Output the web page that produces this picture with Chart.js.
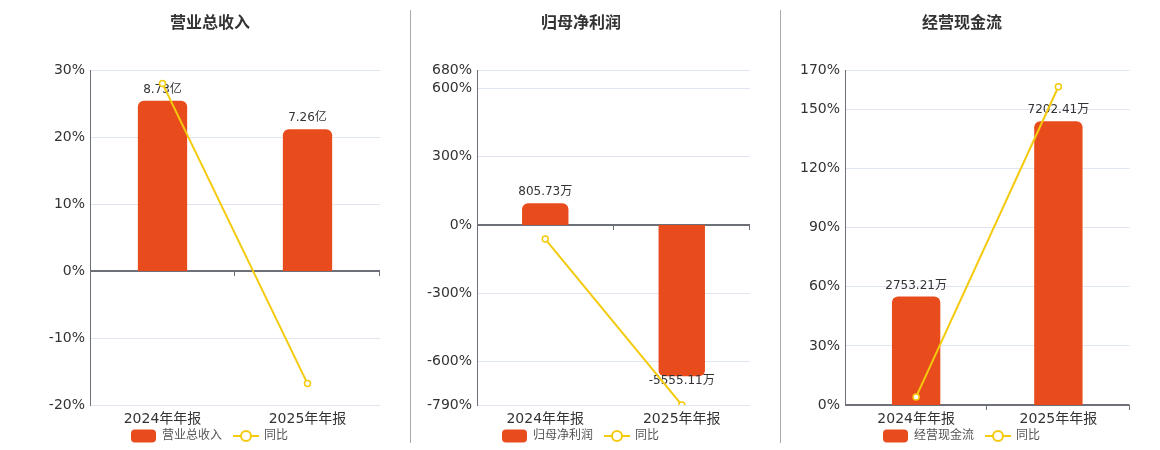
<!DOCTYPE html>
<html>
<head>
<meta charset="utf-8">
<script src="https://cdn.jsdelivr.net/npm/chart.js@4.4.0/dist/chart.umd.min.js"></script>
<style>
  body { margin: 0; background: #fff; }
  #wrap { position: relative; width: 1160px; height: 450px; overflow: hidden; }
  #wrap canvas { position: absolute; top: 0; }
  .sep { position: absolute; top: 10px; width: 1px; height: 433px; background: #aaa; }
</style>
</head>
<body>
<div id="wrap">
  <canvas id="c1" width="420" height="450" style="left:0px"></canvas>
  <canvas id="c2" width="350" height="450" style="left:406px"></canvas>
  <canvas id="c3" width="346" height="450" style="left:789px"></canvas>
  <div class="sep" style="left:410px"></div>
  <div class="sep" style="left:780px"></div>
</div>
<script>
// data
const years = ['2024年年报', '2025年年报'];

const revenue = [8.73, 7.26];            // 亿
const revenueYoy = [28.0, -16.8];        // %
const revenueTicks = [-20, -10, 0, 10, 20, 30];

const netProfit = [805.73, -5555.11];    // 万
const netProfitYoy = [-61.5, -789.5];    // %
const netProfitTicks = [-790, -600, -300, 0, 300, 600, 680];

const cashFlow = [2753.21, 7202.41];     // 万
const cashFlowYoy = [4.1, 161.6];        // %
const cashFlowTicks = [0, 30, 60, 90, 120, 150, 170];

const FONT = '"DejaVu Sans", "Noto Sans CJK SC", sans-serif';
const BAR = '#e84c1d';
const LINE = '#f4ca0c';
const AXIS = '#6e7079';
const GRID = '#e0e6f1';

// legend icons, drawn by the decor plugin below
function drawBarIcon(ctx, x, y) {
  ctx.fillStyle = BAR;
  ctx.beginPath();
  ctx.roundRect(x, y - 6.5, 25, 13, 4);
  ctx.fill();
}
function drawLineIcon(ctx, x, y) {
  ctx.strokeStyle = LINE; ctx.lineWidth = 2;
  ctx.beginPath(); ctx.moveTo(x, y); ctx.lineTo(x + 26, y); ctx.stroke();
  ctx.fillStyle = '#fff';
  ctx.beginPath(); ctx.arc(x + 13, y, 5, 0, Math.PI * 2); ctx.fill(); ctx.stroke();
}

const decor = {
  id: 'decor',
  beforeDatasetsDraw(chart) {
    // little tick marks hanging from the zero line
    const {ctx, chartArea} = chart;
    const y0 = chart.scales.y.getPixelForValue(0);
    const n = chart.data.labels.length;
    const w = (chartArea.right - chartArea.left) / n;
    ctx.save();
    ctx.strokeStyle = AXIS; ctx.lineWidth = 1;
    for (let i = 1; i <= n; i++) {
      const x = Math.round(chartArea.left + i * w) - 0.5;
      ctx.beginPath(); ctx.moveTo(x, y0); ctx.lineTo(x, y0 + 5); ctx.stroke();
    }
    ctx.restore();
  },
  afterDatasetDraw(chart, args, opts) {
    if (args.index !== 0) return;
    const {ctx} = chart;
    const vals = chart.data.datasets[0].data;
    ctx.save();
    ctx.font = '12px ' + FONT;
    ctx.fillStyle = '#333';
    ctx.textAlign = 'center';
    ctx.textBaseline = 'middle';
    args.meta.data.forEach((bar, i) => {
      const v = vals[i];
      const txt = v.toFixed(2) + opts.unit;
      ctx.fillText(txt, bar.x, v >= 0 ? bar.y - 11 : bar.y + 5);
    });
    ctx.restore();
  },
  afterDraw(chart) {
    // legend: bar box + label, line-with-circle + label
    const {ctx} = chart;
    const ds = chart.data.datasets;
    ctx.save();
    ctx.font = '12px ' + FONT;
    const t0 = ctx.measureText(ds[0].label).width;
    const t1 = ctx.measureText(ds[1].label).width;
    const total = 25 + 6 + t0 + 11 + 26 + 5 + t1;
    let x = Math.round(chart.width / 2 - total / 2);
    const y = 436;
    drawBarIcon(ctx, x, y);
    x += 31;
    ctx.fillStyle = '#555'; ctx.textAlign = 'left'; ctx.textBaseline = 'middle';
    ctx.fillText(ds[0].label, x, y);
    x += t0 + 11;
    drawLineIcon(ctx, x, y);
    x += 31;
    ctx.fillStyle = '#555';
    ctx.fillText(ds[1].label, x, y);
    ctx.restore();
  }
};

function makeChart(id, p) {
  return new Chart(document.getElementById(id), {
    type: 'bar',
    data: {
      labels: years,
      datasets: [
        {
          type: 'bar', label: p.barLabel, data: p.bars, yAxisID: 'y1', order: 2,
          backgroundColor: BAR, borderRadius: 6, borderSkipped: 'start',
          barPercentage: 0.34, categoryPercentage: 1
        },
        {
          type: 'line', label: '同比', data: p.yoy, yAxisID: 'y', order: 1,
          borderColor: LINE, borderWidth: 2, pointRadius: 3, pointBorderWidth: 1.5,
          pointBackgroundColor: '#fff', pointBorderColor: LINE, tension: 0
        }
      ]
    },
    options: {
      responsive: false,
      animation: false,
      layout: { padding: { bottom: 22 } },
      plugins: {
        title: {
          display: true, text: p.title, color: '#333',
          font: { size: 16, weight: 'bold', family: FONT },
          padding: { top: 14, bottom: 37 }
        },
        legend: { display: false },
        tooltip: { enabled: false },
        decor: { unit: p.unit }
      },
      scales: {
        x: {
          grid: { display: false, drawTicks: false },
          border: { display: false },
          ticks: { color: '#333', padding: 6, font: { size: 14, family: FONT } },
          afterFit(s) { s.height = 23; }
        },
        y: {
          min: p.ticks[0], max: p.ticks[p.ticks.length - 1],
          afterBuildTicks(s) { s.ticks = p.ticks.map(v => ({ value: v })); },
          grid: {
            drawTicks: false,
            color: c => c.tick && c.tick.value === 0 ? AXIS : GRID,
            lineWidth: c => c.tick && c.tick.value === 0 ? 2 : 1
          },
          border: { color: AXIS, width: 1 },
          ticks: { color: '#333', padding: 5, font: { size: 14, family: FONT }, callback: v => v + '%' },
          afterFit(s) { s.width = p.yWidth; }
        },
        y1: {
          position: 'right',
          min: p.barRange[0], max: p.barRange[1],
          grid: { display: false, drawOnChartArea: false, drawTicks: false },
          border: { display: false },
          ticks: { display: false },
          afterFit(s) { s.width = p.rightWidth; }
        }
      }
    },
    plugins: [decor]
  });
}

makeChart('c1', {
  title: '营业总收入', barLabel: '营业总收入', unit: '亿',
  bars: revenue, yoy: revenueYoy, ticks: revenueTicks,
  barRange: [-6.86, 10.29], yWidth: 90, rightWidth: 40
});
makeChart('c2', {
  title: '归母净利润', barLabel: '归母净利润', unit: '万',
  bars: netProfit, yoy: netProfitYoy, ticks: netProfitTicks,
  barRange: [-6612, 5692], yWidth: 71, rightWidth: 6
});
makeChart('c3', {
  title: '经营现金流', barLabel: '经营现金流', unit: '万',
  bars: cashFlow, yoy: cashFlowYoy, ticks: cashFlowTicks,
  barRange: [0, 8500], yWidth: 56, rightWidth: 5
});
</script>
</body>
</html>
